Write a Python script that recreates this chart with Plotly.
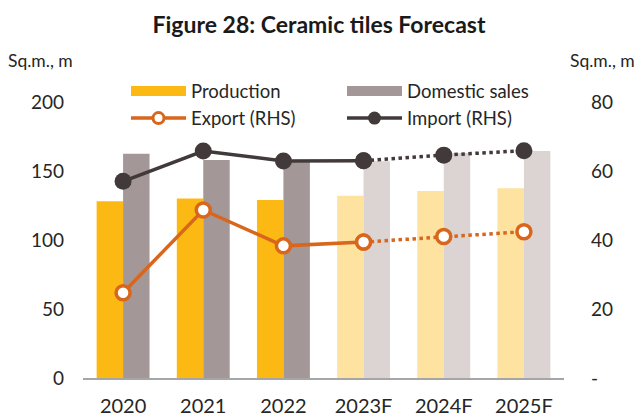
import plotly.graph_objects as go

categories = ["2020", "2021", "2022", "2023F", "2024F", "2025F"]
production = [128, 130, 129, 132, 135.5, 137.5]
domestic_sales = [162.5, 158, 157, 157, 163, 164.5]
export_rhs = [24.7, 48.7, 38.3, 39.4, 41.0, 42.4]
import_rhs = [57.0, 65.8, 62.9, 63.0, 64.6, 65.9]
left_ticks = [0, 50, 100, 150, 200]
right_ticks = [0, 20, 40, 60, 80]
right_ticktext = ["-", "20", "40", "60", "80"]
n_actual = 3  # 2020-2022 actual, rest forecast

FONT = "Lato"
TXT = "#262626"
prod_col = ["#FDB913"] * n_actual + ["#FDE2A0"] * (len(categories) - n_actual)
dom_col = ["#A39797"] * n_actual + ["#DCD3D3"] * (len(categories) - n_actual)
EXP = "#D8661C"
IMP = "#423A3A"

fig = go.Figure()
fig.add_trace(go.Bar(x=categories, y=production, marker=dict(color=prod_col, line_width=0),
                     showlegend=False, name="Production"))
fig.add_trace(go.Bar(x=categories, y=domestic_sales, marker=dict(color=dom_col, line_width=0),
                     showlegend=False, name="Domestic sales"))

solid_idx = slice(0, 4)
dot_idx = slice(3, 6)
exp_marker = dict(symbol="circle", size=14, color="white", line=dict(color=EXP, width=3.5))
imp_marker = dict(symbol="circle", size=17, color=IMP, line=dict(color=IMP, width=0))
fig.add_trace(go.Scatter(x=categories[solid_idx], y=export_rhs[solid_idx], yaxis="y2", mode="lines+markers",
                         line=dict(color=EXP, width=3.5), marker=exp_marker, showlegend=False))
fig.add_trace(go.Scatter(x=categories[dot_idx], y=export_rhs[dot_idx], yaxis="y2", mode="lines+markers",
                         line=dict(color=EXP, width=3.5, dash="dot"), marker=exp_marker, showlegend=False))
fig.add_trace(go.Scatter(x=categories[solid_idx], y=import_rhs[solid_idx], yaxis="y2", mode="lines+markers",
                         line=dict(color=IMP, width=3.5), marker=imp_marker, showlegend=False))
fig.add_trace(go.Scatter(x=categories[dot_idx], y=import_rhs[dot_idx], yaxis="y2", mode="lines+markers",
                         line=dict(color=IMP, width=3.5, dash="dot"), marker=imp_marker, showlegend=False))

# legend-only entries
fig.add_trace(go.Scatter(x=[None], y=[None], mode="lines", name="Production",
                         line=dict(color="#FDB913", width=10), legendrank=1))
fig.add_trace(go.Scatter(x=[None], y=[None], mode="lines", name="Domestic sales",
                         line=dict(color="#A39797", width=10), legendrank=2))
fig.add_trace(go.Scatter(x=[None], y=[None], mode="lines+markers", name="Export (RHS)",
                         line=dict(color=EXP, width=3.5), marker=dict(symbol="circle", size=11, color="white",
                         line=dict(color=EXP, width=3)), legendrank=3))
fig.add_trace(go.Scatter(x=[None], y=[None], mode="lines+markers", name="Import (RHS)",
                         line=dict(color=IMP, width=3.5), marker=dict(symbol="circle", size=13, color=IMP),
                         legendrank=4))

fig.update_layout(
    width=638, height=416,
    margin=dict(l=83, r=74, t=102, b=38, autoexpand=False),
    paper_bgcolor="white", plot_bgcolor="white",
    font=dict(family=FONT, color=TXT, size=18),
    barmode="group", bargap=0.34, bargroupgap=0,
    title=dict(text="<b>Figure 28: Ceramic tiles Forecast</b>", x=0.5, xanchor="center",
               y=1 - 25 / 416, yref="container", yanchor="middle", font=dict(size=23, color="#1a1a1a")),
    xaxis=dict(showline=True, linecolor="#A6A6A6", linewidth=1.5, ticks="", showgrid=False,
               tickfont=dict(size=20), ticklabelstandoff=9, automargin=False),
    yaxis=dict(range=[0, 200], tickvals=left_ticks, showgrid=False, zeroline=False, showline=False,
               ticks="", tickfont=dict(size=19), ticklabelstandoff=18, automargin=False),
    yaxis2=dict(range=[0, 80], tickvals=right_ticks, ticktext=right_ticktext, overlaying="y", side="right",
                showgrid=False, zeroline=False, showline=False, ticks="", tickfont=dict(size=19),
                ticklabelstandoff=26, automargin=False),
    legend=dict(orientation="h", x=(126 - 83) / 481, xanchor="left", y=1 + (99 - 102) / 276, yanchor="middle",
                entrywidth=146, entrywidthmode="pixels", itemwidth=55, font=dict(size=18.5),
                traceorder="normal", bgcolor="rgba(0,0,0,0)", tracegroupgap=0),
    annotations=[
        dict(text="Sq.m., m", xref="paper", yref="paper", x=-83 / 481 + 6 / 481, y=1 + (102 - 60) / 276,
             xanchor="left", yanchor="middle", showarrow=False, font=dict(size=17.5)),
        dict(text="Sq.m., m", xref="paper", yref="paper", x=(637 - 83) / 481, y=1 + (102 - 60) / 276,
             xanchor="right", yanchor="middle", showarrow=False, font=dict(size=17.5)),
    ],
)

fig.write_html("out.html")
